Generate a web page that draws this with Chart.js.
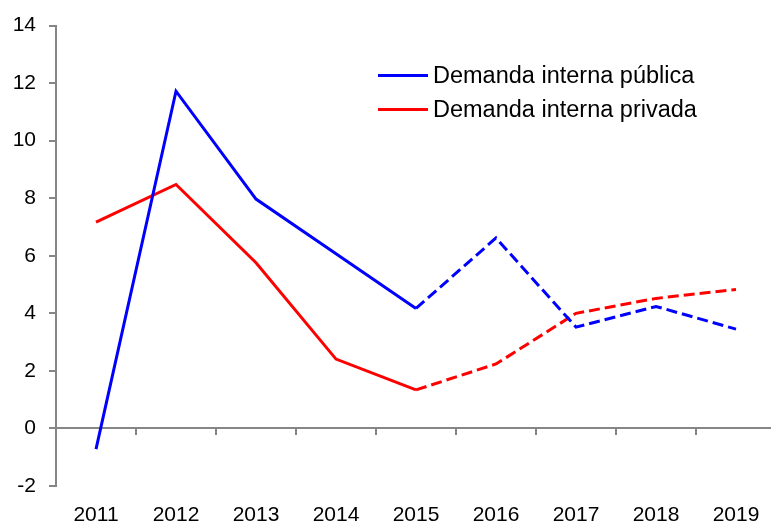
<!DOCTYPE html>
<html>
<head>
<meta charset="utf-8">
<script src="https://cdn.jsdelivr.net/npm/chart.js@4/dist/chart.umd.min.js"></script>
<style>
  html, body { margin: 0; padding: 0; background: #fff; overflow: hidden; }
  #wrap { position: relative; width: 800px; height: 524px; }
  #legend { position: absolute; left: 378px; top: 58px; font-family: "Liberation Sans", Arial, sans-serif; font-size: 23.5px; color: #000; }
  .row { display: flex; align-items: center; height: 34px; }
  .swatch { width: 50px; height: 0; border-top: 3px solid; margin-right: 5px; }
</style>
</head>
<body>
<div id="wrap">
  <canvas id="myChart" width="800" height="524"></canvas>
  <div id="legend"></div>
</div>
<script>
// years on the x axis
const years = ['2011', '2012', '2013', '2014', '2015', '2016', '2017', '2018', '2019'];
// demanda interna, % change (from 2015 on dashed = estimates)
const publica = [-0.72, 11.72, 7.97, 6.07, 4.17, 6.62, 3.52, 4.24, 3.45];
const privada = [7.17, 8.48, 5.76, 2.41, 1.34, 2.24, 4.0, 4.52, 4.83];
const yTicks = [-2, 0, 2, 4, 6, 8, 10, 12, 14];
const dashFrom = 4; // index of 2015

const grey = '#868686';
const font = { family: '"Liberation Sans", Arial, sans-serif', size: 21 };

const dashed = ctx => ctx.p0DataIndex >= dashFrom ? [11, 5] : undefined;

const data = {
    labels: years,
    datasets: [{
        label: 'Demanda interna pública',
        data: publica,
        borderColor: '#0000ff',
        backgroundColor: '#0000ff',
        borderWidth: 3,
        pointRadius: 0,
        tension: 0,
        segment: { borderDash: dashed }
    }, {
        label: 'Demanda interna privada',
        data: privada,
        borderColor: '#ff0000',
        backgroundColor: '#ff0000',
        borderWidth: 3,
        pointRadius: 0,
        tension: 0,
        segment: { borderDash: dashed }
    }]
};

const config = {
    type: 'line',
    data: data,
    options: {
        responsive: false,
        animation: false,
        layout: { padding: { top: 22, right: 24, left: 0, bottom: 0 } },
        plugins: { legend: { display: false }, tooltip: { enabled: false } },
        scales: {
            x: {
                position: { y: 0 },
                offset: true,
                grid: { offset: true, drawOnChartArea: false, drawTicks: true, tickLength: 6, color: grey, lineWidth: 2 },
                border: { color: grey, width: 2 },
                ticks: { display: false }
            },
            x2: {
                type: 'category',
                labels: years,
                position: 'bottom',
                offset: true,
                grid: { display: false },
                border: { display: false },
                ticks: { color: '#000', font: font, padding: 9, maxRotation: 0 },
                afterFit: s => { s.height = 38; }
            },
            y: {
                min: -2,
                max: 14,
                afterBuildTicks: s => { s.ticks = yTicks.map(v => ({ value: v })); },
                grid: { drawOnChartArea: false, tickLength: 7, color: grey, lineWidth: 2 },
                border: { color: grey, width: 2 },
                ticks: { color: '#000', font: font, padding: 13 },
                afterFit: s => { s.width = 56; }
            }
        }
    }
};

const chart = new Chart(document.getElementById('myChart'), config);

// legend drawn as html text inside the plot
const legend = document.getElementById('legend');
data.datasets.forEach(ds => {
    const row = document.createElement('div');
    row.className = 'row';
    const sw = document.createElement('div');
    sw.className = 'swatch';
    sw.style.borderColor = ds.borderColor;
    const txt = document.createElement('span');
    txt.textContent = ds.label;
    row.appendChild(sw);
    row.appendChild(txt);
    legend.appendChild(row);
});
</script>
</body>
</html>
